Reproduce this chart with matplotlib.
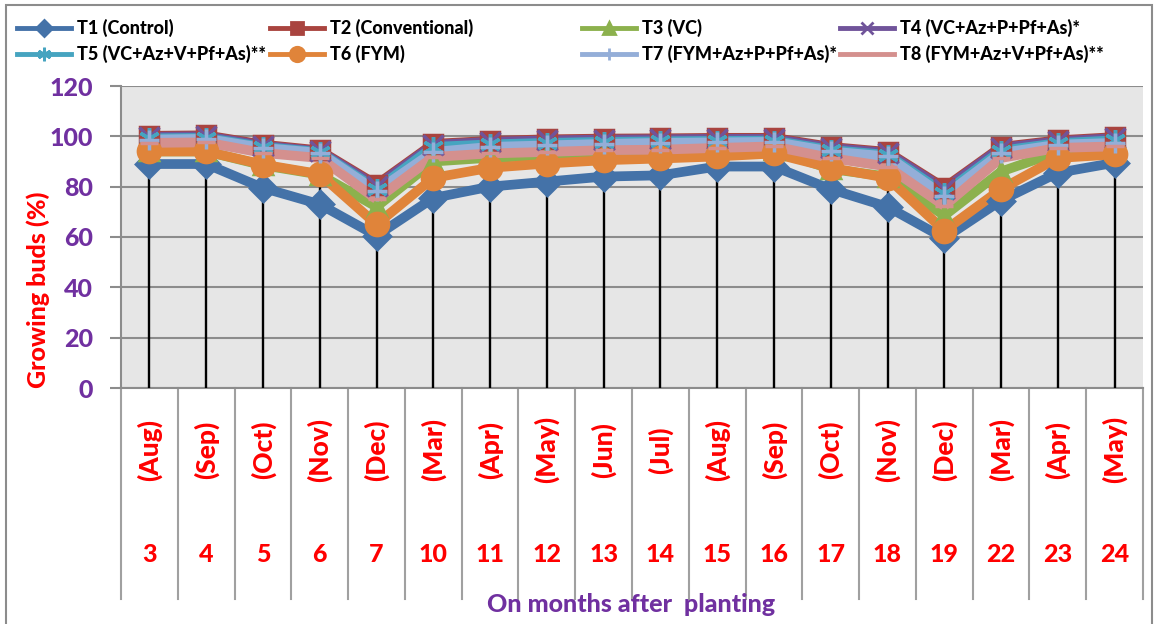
import matplotlib
matplotlib.use("Agg")
import matplotlib.pyplot as plt
import matplotlib.transforms as mtransforms
from matplotlib.lines import Line2D
from matplotlib.patches import Rectangle

plt.rcParams['font.family'] = ['Lato', 'DejaVu Sans']
plt.rcParams['font.weight'] = 'black'

months = ["(Aug)", "(Sep)", "(Oct)", "(Nov)", "(Dec)", "(Mar)", "(Apr)", "(May)", "(Jun)",
          "(Jul)", "(Aug)", "(Sep)", "(Oct)", "(Nov)", "(Dec)", "(Mar)", "(Apr)", "(May)"]
month_nums = ["3", "4", "5", "6", "7", "10", "11", "12", "13", "14", "15", "16", "17", "18",
              "19", "22", "23", "24"]

t1 = [89, 89, 79.5, 73, 60.5, 75.5, 80, 82, 84, 84.5, 88, 88, 79, 72, 59.5, 74.5, 85.5, 89.5]
t2 = [100.2, 100.4, 96.7, 94.4, 80.8, 97.0, 98.2, 98.8, 99.1, 99.2, 99.4, 99.4, 95.8, 93.8, 79.6, 95.8, 98.4, 99.7]
t3 = [94, 94, 88.5, 84.8, 72, 90, 91.5, 92.2, 93, 93.2, 93.8, 94.5, 87, 84, 68.5, 86, 93.8, 94.5]
t4 = [99.8, 100, 96.3, 94, 80.2, 96.6, 97.8, 98.4, 98.7, 98.8, 99, 99, 95.4, 93.4, 79, 95.4, 98, 99.3]
t5 = [99.2, 99.4, 95.8, 93.7, 79, 95.8, 96.8, 97.4, 97.8, 98, 98.2, 98.3, 94.6, 92.6, 77.5, 94.3, 97.3, 98.4]
t6 = [94, 94, 88.8, 85, 65, 83.5, 87.5, 89.2, 90.5, 91.2, 92, 93.2, 87.5, 83.5, 62.5, 79, 91.4, 92.8]
t7 = [98.7, 99, 95.4, 93.4, 78.2, 93.8, 95.8, 96.4, 97, 97.4, 97.6, 97.8, 94, 92, 76.3, 93.4, 96.7, 97.4]
t8 = [97.4, 97.6, 93.4, 91.4, 75, 91.8, 93.2, 93.8, 94.5, 94.7, 95.4, 96, 91.4, 88, 72.4, 91.4, 95.4, 96]

series = [
    ("T1 (Control)", t1, "#4472A8", "D", 13),
    ("T2 (Conventional)", t2, "#A9443F", "s", 13),
    ("T3 (VC)", t3, "#8CB14D", "^", 13),
    ("T4 (VC+Az+P+Pf+As)*", t4, "#70549A", "x", 14),
    ("T5 (VC+Az+V+Pf+As)**", t5, "#46A4C0", (6, 2, 0), 15),
    ("T6 (FYM)", t6, "#E0843A", "o", 16),
    ("T7 (FYM+Az+P+Pf+As)*", t7, "#94AED8", "+", 14),
    ("T8 (FYM+Az+V+Pf+As)**", t8, "#D4908E", "_", 13),
]

purple = "#7030A0"
x = list(range(len(months)))

fig = plt.figure(figsize=(11.58, 6.24), dpi=100)
ax = fig.add_axes([121 / 1158, 1 - 388 / 624, (1143 - 121) / 1158, (388 - 86) / 624])
ax.set_facecolor("#E6E6E6")

# lines first, then drop lines, then markers on top
for i, (name, vals, col, mk, ms) in enumerate(series):
    ax.plot(x, vals, color=col, lw=7, zorder=2 + i * 0.1, solid_joinstyle="miter")

tops = [max(s[1][k] for s in series) for k in x]
ax.vlines(x, 0, tops, color="black", lw=1.7, zorder=3)

handles = []
for i, (name, vals, col, mk, ms) in enumerate(series):
    ax.plot(x, vals, ls="none", marker=mk, ms=ms, color=col, mec=col, mew=2.5, zorder=4 + i * 0.1)
    handles.append(Line2D([], [], color=col, lw=3.5, marker=mk, ms=ms * 0.65, mec=col, mew=2))

ax.set_xlim(-0.5, len(months) - 0.5)
ax.set_ylim(0, 120)
ax.set_yticks(range(0, 121, 20))
ax.yaxis.grid(True, color="#8C8C8C", lw=1.5)
ax.set_axisbelow(True)
ax.tick_params(axis="y", colors="#8C8C8C", length=8, width=1.5, labelcolor=purple,
               labelsize=18, pad=12)
ax.set_xticks([])
for sp in ["top", "right"]:
    ax.spines[sp].set_visible(False)
for sp in ["left", "bottom"]:
    ax.spines[sp].set_color("#8C8C8C")
    ax.spines[sp].set_linewidth(1.5)

# category axis: separators, month labels and month numbers
trans = mtransforms.blended_transform_factory(ax.transData, ax.transAxes)
for b in range(len(months) + 1):
    ax.add_line(Line2D([b - 0.5, b - 0.5], [0, -0.70], transform=trans, color="#A0A0A0",
                       lw=1.5, clip_on=False))
for k in x:
    ax.text(k, -0.205, months[k], transform=trans, rotation=90, ha="center", va="center",
            color="red", fontsize=19)
    ax.text(k, -0.55, month_nums[k], transform=trans, ha="center", va="center",
            color="red", fontsize=18)

fig.text(38 / 1158, 1 - 290 / 624, "Growing buds (%)", rotation=90, ha="center", va="center",
         color="red", fontsize=18)
fig.text(631 / 1158, 1 - 605 / 624, "On months after  planting", ha="center", va="center",
         color=purple, fontsize=18)

# legend laid out as 4 columns of 2 rows
col_x = [17, 270, 582, 840]
for c in range(4):
    leg = fig.legend([handles[c], handles[c + 4]], [series[c][0], series[c + 4][0]],
                     loc="upper left", bbox_to_anchor=(col_x[c] / 1158, 1 - 19 / 624),
                     frameon=False, fontsize=13, handlelength=3.0, handletextpad=0.3,
                     labelspacing=0.45, borderpad=0, borderaxespad=0)
    for t in leg.get_texts():
        t.set_fontweight("black")

fig.patches.append(Rectangle((6 / 1158, -0.01), 1146 / 1158, 1 - 5 / 624 + 0.01,
                             transform=fig.transFigure, fill=False, ec="#8C8C8C", lw=1.5))

fig.savefig("out.png", dpi=100)
